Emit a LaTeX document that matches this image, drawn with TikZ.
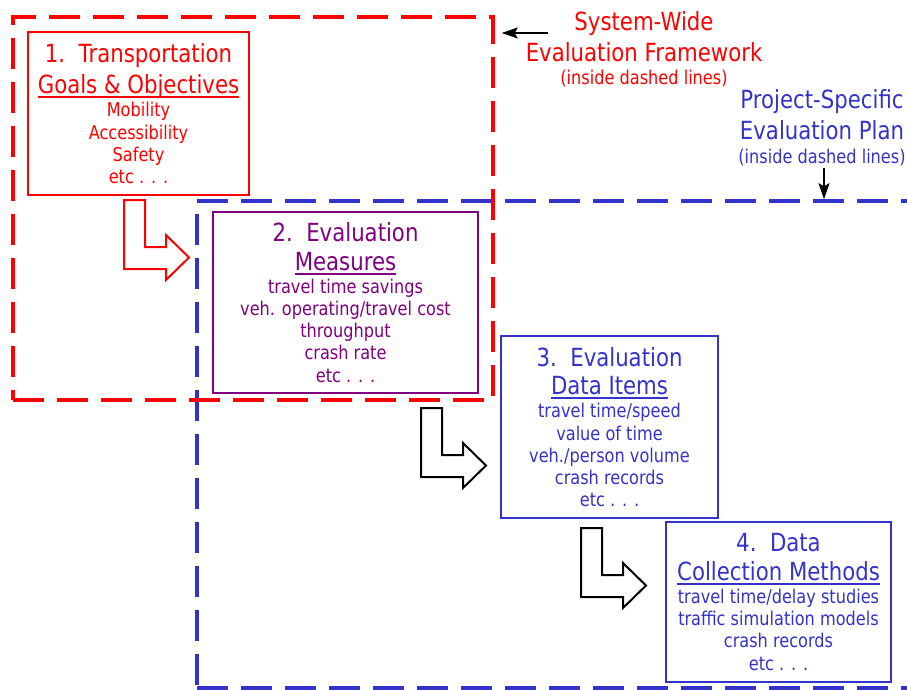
\documentclass[tikz,border=0pt]{standalone}
\usepackage{fontspec}
\setmainfont{DejaVu Sans}[FakeStretch=0.85]
\usetikzlibrary{arrows.meta,positioning}

\definecolor{sysred}{RGB}{255,0,0}
\definecolor{planblue}{RGB}{51,51,204}
\definecolor{measpurple}{RGB}{128,0,128}

\newcommand\ttlfont{\fontsize{25}{28.4}\selectfont}
\newcommand\undl[1]{\setbox0=\hbox{#1}\rlap{\rule[-4.5pt]{\wd0}{1.7pt}}\box0}

\tikzset{
  stepbox/.style={draw, fill=white, line width=2pt, align=center, inner sep=0pt,
    font=\fontsize{19}{22.2}\selectfont},
  redframe/.style={draw=sysred, line width=3.5pt, dash pattern=on 31pt off 13pt, inner sep=0pt},
  blueframe/.style={draw=planblue, line width=3.5pt, dash pattern=on 31pt off 13pt, inner sep=0pt},
  framelabel/.style={align=center, inner sep=0pt, font=\fontsize{19}{22.2}\selectfont},
  pointer/.style={-{Stealth[length=16pt,width=11pt,inset=3pt]}, line width=1.3pt},
  bendarrow/.style={line width=2pt, fill=white, line join=miter}
}

\begin{document}
\begin{tikzpicture}[x=1pt, y=-1pt]
    \useasboundingbox (0,0) rectangle (907,690);

    % Dashed frames
    \node[blueframe, minimum width=718pt, minimum height=487pt] (planframe) at (556,444.5) {};
    \node[redframe, minimum width=480pt, minimum height=383pt] (sysframe) at (253,208.5) {};

    % Step boxes
    \node[stepbox, draw=sysred, text=sysred, minimum width=221pt, minimum height=163pt] (goals) at (138.5,113.5)
        {{\ttlfont 1.~~Transportation}\\[6.2pt]{\ttlfont\undl{Goals \& Objectives}}\\[1.1pt]
         Mobility\\Accessibility\\Safety\\etc . . .};
    \node[stepbox, draw=measpurple, text=measpurple, minimum width=265pt, minimum height=181pt] (measures) at (345.5,302.5)
        {{\ttlfont 2.~~Evaluation}\\[6.2pt]{\ttlfont\undl{Measures}}\\[1.1pt]
         travel time savings\\veh. operating/travel cost\\throughput\\crash rate\\etc . . .};
    \node[stepbox, draw=planblue, text=planblue, minimum width=217pt, minimum height=182pt] (dataitems) at (609.5,427)
        {{\ttlfont 3.~~Evaluation}\\[6.2pt]{\ttlfont\undl{Data Items}}\\[1.1pt]
         travel time/speed\\value of time\\veh./person volume\\crash records\\etc . . .};
    \node[stepbox, draw=planblue, text=planblue, minimum width=225pt, minimum height=160pt] (methods) at (778.5,602)
        {{\ttlfont 4.~~Data}\\[6.2pt]{\ttlfont\undl{Collection Methods}}\\[1.1pt]
         travel time/delay studies\\traffic simulation models\\crash records\\etc . . .};

    % Bent block arrows between steps
    \foreach \ax/\ay/\col in {124/200/sysred, 421/408/black, 581/528/black}
        \draw[bendarrow, draw=\col, shift={(\ax,\ay)}] (0,0) -- (21,0) -- (21,47) -- (42,47) -- (42,35)
            -- (65,57.5) -- (42,80) -- (42,69) -- (0,69) -- cycle;

    % Frame labels
    \node[framelabel, text=sysred] (swlabel) at (644,49.3)
        {{\ttlfont System-Wide}\\[6.2pt]{\ttlfont Evaluation Framework}\\[1.1pt](inside dashed lines)};
    \node[framelabel, text=planblue] (pslabel) at (822,127.6)
        {{\ttlfont Project-Specific}\\[6.2pt]{\ttlfont Evaluation Plan}\\[1.1pt](inside dashed lines)};

    % Pointers to the frames
    \coordinate (swtail) at (548,33);
    \draw[pointer, shorten >=7pt] (swtail) -- (swtail -| sysframe.east);
    \coordinate (pstail) at (824,168);
    \draw[pointer] (pstail) -- (pstail |- planframe.north);
\end{tikzpicture}
\end{document}
